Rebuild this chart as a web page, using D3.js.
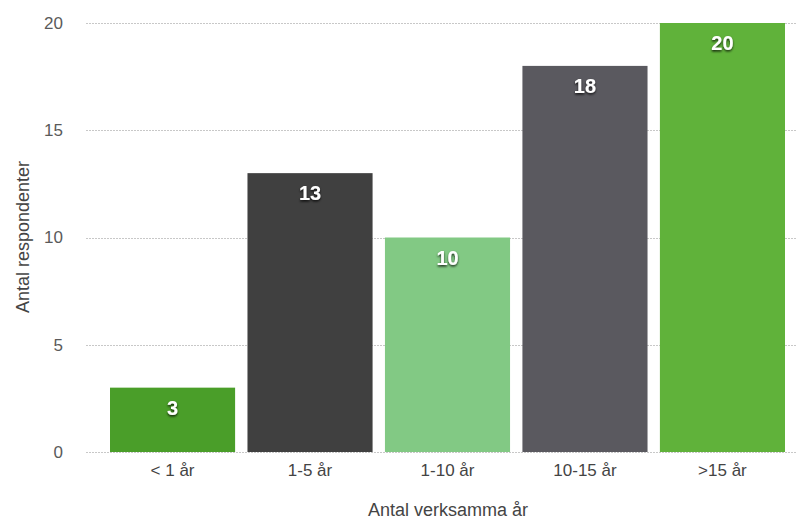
<!DOCTYPE html>
<html>
<head>
<meta charset="utf-8">
<script src="https://cdn.jsdelivr.net/npm/d3@7"></script>
<style>
    body { margin: 0; background: #fff; }
    svg { display: block; font-family: "Liberation Sans", Arial, sans-serif; }
</style>
</head>
<body>
<div id="chart"></div>
<script>
// chart data
const categories = ['< 1 år', '1-5 år', '1-10 år', '10-15 år', '>15 år'];
const counts = [3, 13, 10, 18, 20];
const barColors = ['#4a9e29', '#404040', '#82c984', '#5a595f', '#60b23a'];
const yTicks = [0, 5, 10, 15, 20];

const width = 797;
const height = 521;

const svg = d3.select('#chart')
    .append('svg')
    .attr('width', width)
    .attr('height', height);

const x = d3.scaleBand()
    .domain(categories)
    .range([110, 785])
    .paddingInner(0.09)
    .paddingOuter(0);

const y = d3.scaleLinear()
    .domain([0, 20])
    .range([452, 23]);

// dotted grid lines
svg.append('g')
    .selectAll('line')
    .data(yTicks)
    .join('line')
    .attr('x1', 86)
    .attr('x2', width)
    .attr('y1', d => Math.round(y(d)) + 0.5)
    .attr('y2', d => Math.round(y(d)) + 0.5)
    .attr('stroke', '#c8c8c8')
    .attr('stroke-width', 1)
    .attr('stroke-dasharray', '2,1');

// y axis labels
function yAxis(g) {
    g.attr('transform', 'translate(63,0)')
        .call(d3.axisLeft(y).tickValues(yTicks).tickSize(0).tickPadding(0))
        .call(g => g.select('.domain').remove())
        .attr('font-size', '17px')
        .attr('font-family', null)
        .selectAll('text').attr('fill', '#5a5a5a');
}

function xAxis(g) {
    g.attr('transform', 'translate(0,452)')
        .call(d3.axisBottom(x).tickSize(0).tickPadding(12))
        .call(g => g.select('.domain').remove())
        .attr('font-size', '17px')
        .attr('font-family', null)
        .selectAll('text').attr('fill', '#444');
}
svg.append('g').call(yAxis);
svg.append('g').call(xAxis);

const defs = svg.append('defs');
const shadow = defs.append('filter').attr('id', 'shadow')
    .attr('x', '-30%').attr('y', '-30%').attr('width', '160%').attr('height', '160%');
shadow.append('feDropShadow')
    .attr('dx', 0).attr('dy', 1.5).attr('stdDeviation', 1.2)
    .attr('flood-color', '#000').attr('flood-opacity', 0.8);

// bars
svg.append('g')
    .selectAll('rect')
    .data(counts)
    .join('rect')
    .attr('x', (d, i) => x(categories[i]))
    .attr('y', d => y(d))
    .attr('width', x.bandwidth())
    .attr('height', d => y(0) - y(d))
    .attr('fill', (d, i) => barColors[i]);

// value labels
svg.append('g')
    .selectAll('text')
    .data(counts)
    .join('text')
    .attr('x', (d, i) => x(categories[i]) + x.bandwidth() / 2)
    .attr('y', d => y(d) + 27)
    .attr('text-anchor', 'middle')
    .attr('fill', '#fff')
    .attr('font-size', '20px')
    .attr('font-weight', 'bold')
    .attr('filter', 'url(#shadow)')
    .text(d => d);

svg.append('text')
    .attr('x', 448)
    .attr('y', 516)
    .attr('text-anchor', 'middle')
    .attr('fill', '#444')
    .style('font-size', '18px')
    .text('Antal verksamma år');

svg.append('text')
    .attr('transform', 'rotate(-90)')
    .attr('x', -237)
    .attr('y', 29)
    .attr('text-anchor', 'middle')
    .attr('fill', '#444')
    .style('font-size', '18px')
    .text('Antal respondenter');
</script>
</body>
</html>
